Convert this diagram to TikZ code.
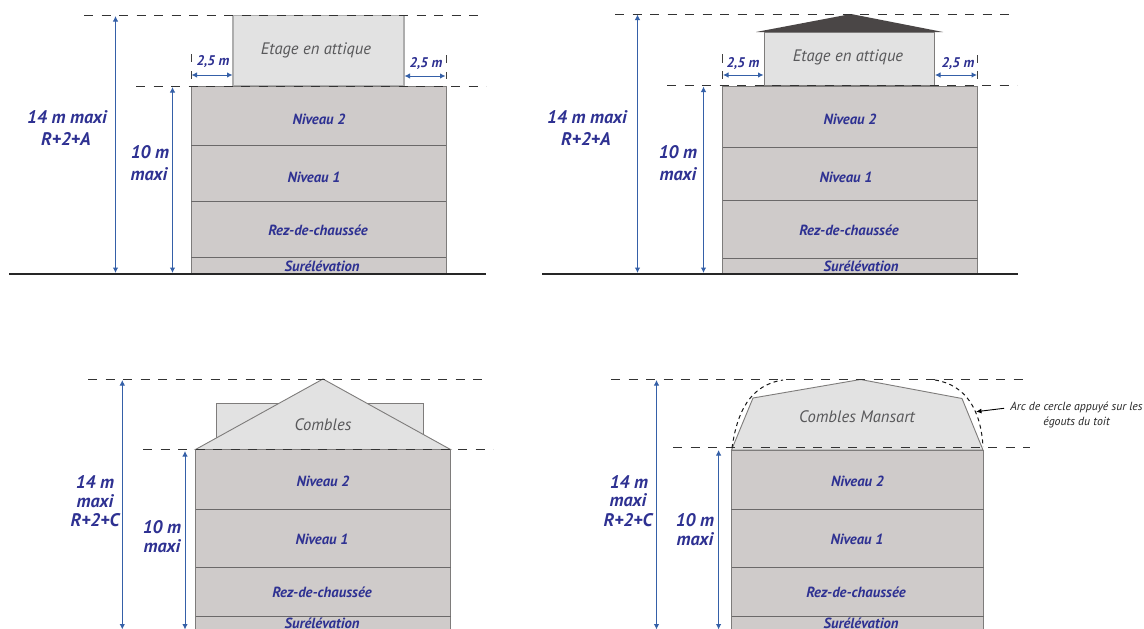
\documentclass[tikz,border=0pt]{standalone}
\usepackage{fontspec}
\setmainfont{PT Sans}
\usetikzlibrary{arrows.meta}
\definecolor{wallc}{HTML}{CFCBCA}
\definecolor{topc}{HTML}{E2E2E2}
\definecolor{edgec}{HTML}{7E7C7B}
\definecolor{inkb}{HTML}{2E3192}
\definecolor{arrb}{HTML}{3560A8}
\definecolor{txtg}{HTML}{58585A}
\definecolor{roofc}{HTML}{4A4646}
\tikzset{
  x=1pt,y=-1pt,
  wallbox/.style={fill=wallc,draw=edgec,line width=0.9pt},
  upperbox/.style={fill=topc,draw=edgec,line width=0.9pt},
  floorline/.style={draw=edgec!85!black,line width=1pt},
  limitline/.style={draw=black!80,line width=1pt,dash pattern=on 9pt off 8.5pt},
  groundline/.style={draw=black!85,line width=2.4pt},
  dimline/.style={draw=arrb,line width=1pt,{Latex[length=5.5pt,width=5.5pt]}-{Latex[length=5.5pt,width=5.5pt]}},
  tickmark/.style={draw=black!75,line width=0.8pt},
  floorlab/.style={font=\fontsize{14.7}{16}\selectfont\itshape\bfseries,text=inkb,inner sep=0pt},
  biglab/.style={font=\fontsize{18.2}{20}\selectfont\itshape\bfseries,text=inkb,inner sep=0pt},
  midlab/.style={font=\fontsize{14}{16}\selectfont\itshape\bfseries,text=inkb,inner sep=0pt},
  roomlab/.style={font=\fontsize{16.6}{19}\selectfont\itshape,text=txtg,inner sep=0pt},
  notelab/.style={font=\fontsize{11.8}{13}\selectfont\itshape,text=black!85,inner sep=0pt},
}
\begin{document}
\begin{tikzpicture}
\useasboundingbox (0,0) rectangle (1144,629);
\clip (0,0) rectangle (1144,629);
\fill[white] (0,0) rectangle (1144,629);

% Panel A
\draw[upperbox,draw=black!32,line width=1.2pt] (233,15.5) rectangle (404,86);
\draw[wallbox] (191,86) rectangle (446,273);
\draw[floorline] (191,145) -- (446,145);
\draw[floorline] (191,201) -- (446,201);
\draw[floorline] (191,257.5) -- (446,257.5);
\coordinate (a1) at (84,15.5); \coordinate (a2) at (486,15.5);
\coordinate (a3) at (136,86); \coordinate (a4) at (486,86);
\coordinate (a5) at (9,274); \coordinate (a6) at (486,274);
\draw[limitline] (a1) -- (a2);
\draw[limitline] (a3) -- (a4);
\draw[groundline] (a5) -- (a6);
\coordinate (a7) at (115.5,16); \coordinate (a8) at (115.5,273);
\coordinate (a9) at (172.5,87); \coordinate (a10) at (172.5,273);
\draw[dimline] (a7) -- (a8);
\draw[dimline] (a9) -- (a10);
\coordinate (a11) at (191.5,75); \coordinate (a12) at (232.5,75);
\coordinate (a13) at (404.5,76); \coordinate (a14) at (445.5,76);
\draw[dimline] (a11) -- (a12);
\draw[dimline] (a13) -- (a14);
\draw[tickmark] (191,54) -- (191,62) (191,71) -- (191,79);
\draw[tickmark] (446,55) -- (446,63) (446,72) -- (446,79);
\node[roomlab] (a20) at (316,50) {Etage en attique};
\node[midlab] (a21) at (213,62) {2,5 m};
\node[midlab] (a22) at (426,64) {2,5 m};
\node[floorlab] (a23) at (319,119) {Niveau 2};
\node[floorlab] (a24) at (314,177) {Niveau 1};
\node[floorlab] (a25) at (318,230) {Rez-de-chaussée};
\node[floorlab] (a26) at (322,266.5) {Surélévation};
\node[biglab] (a27) at (67,117) {14 m maxi};
\node[biglab] (a28) at (66,139) {R+2+A};
\node[biglab] (a29) at (150,152) {10 m};
\node[biglab] (a30) at (149,174) {maxi};

% Panel B
\fill[roofc] (756,32) -- (851,14) -- (943,32) -- cycle;
\draw[upperbox] (764,32) rectangle (934.5,85);
\draw[wallbox] (722.5,86) rectangle (977.5,273);
\draw[floorline] (722.5,147.5) -- (977.5,147.5);
\draw[floorline] (722.5,200.5) -- (977.5,200.5);
\draw[floorline] (722.5,258) -- (977.5,258);
\coordinate (b1) at (615,14); \coordinate (b2) at (1017,14);
\coordinate (b3) at (667,85.5); \coordinate (b4) at (1017,85.5);
\coordinate (b5) at (542,274); \coordinate (b6) at (1018,274);
\draw[limitline] (b1) -- (b2);
\draw[limitline] (b3) -- (b4);
\draw[groundline] (b5) -- (b6);
\coordinate (b7) at (637.5,14.5); \coordinate (b8) at (637.5,273);
\coordinate (b9) at (703.5,86.5); \coordinate (b10) at (703.5,273);
\draw[dimline] (b7) -- (b8);
\draw[dimline] (b9) -- (b10);
\coordinate (b11) at (723,75); \coordinate (b12) at (763.5,75);
\coordinate (b13) at (935,75); \coordinate (b14) at (977,75);
\draw[dimline] (b11) -- (b12);
\draw[dimline] (b13) -- (b14);
\draw[tickmark] (722.5,54) -- (722.5,63) (722.5,71) -- (722.5,79);
\draw[tickmark] (977.5,55) -- (977.5,63) (977.5,71) -- (977.5,79);
\node[roomlab] (b20) at (848,57) {Etage en attique};
\node[midlab] (b21) at (743,64) {2,5 m};
\node[midlab] (b22) at (958,64) {2,5 m};
\node[floorlab] (b23) at (850,119) {Niveau 2};
\node[floorlab] (b24) at (846,177) {Niveau 1};
\node[floorlab] (b25) at (849,230) {Rez-de-chaussée};
\node[floorlab] (b26) at (861,266.5) {Surélévation};
\node[biglab] (b27) at (587,117) {14 m maxi};
\node[biglab] (b28) at (586,139) {R+2+A};
\node[biglab] (b29) at (678,152) {10 m};
\node[biglab] (b30) at (678,174) {maxi};

% Panel C
\draw[upperbox] (216,449.5) -- (216,403.7) -- (423,403.7) -- (423,449.5);
\draw[upperbox] (195.5,449.5) -- (323,379) -- (450.5,449.5) -- cycle;
\draw[wallbox] (195.5,449.5) rectangle (450.5,640);
\draw[floorline] (195.5,509.3) -- (450.5,509.3);
\draw[floorline] (195.5,567) -- (450.5,567);
\draw[floorline] (195.5,616.3) -- (450.5,616.3);
\coordinate (c1) at (88,379.5); \coordinate (c2) at (490,379.5);
\coordinate (c3) at (143,449.5); \coordinate (c4) at (493,449.5);
\draw[limitline] (c1) -- (c2);
\draw[limitline] (c3) -- (c4);
\coordinate (c7) at (122.3,380); \coordinate (c8) at (122.3,629.5);
\coordinate (c9) at (185,451); \coordinate (c10) at (185,629.5);
\draw[dimline] (c7) -- (c8);
\draw[dimline] (c9) -- (c10);
\node[roomlab] (c20) at (323,425) {Combles};
\node[floorlab] (c23) at (323,481) {Niveau 2};
\node[floorlab] (c24) at (322,539) {Niveau 1};
\node[floorlab] (c25) at (322,592) {Rez-de-chaussée};
\node[floorlab] (c26) at (322,623) {Surélévation};
\node[biglab] (c27) at (95,482) {14 m};
\node[biglab] (c28) at (95,501) {maxi};
\node[biglab] (c31) at (95,520) {R+2+C};
\node[biglab] (c29) at (162,527) {10 m};
\node[biglab] (c30) at (162,546) {maxi};

% Panel D
\draw[upperbox] (731.5,450) -- (753,398) -- (860.5,379.5) -- (962,398.5) -- (983,450) -- cycle;
\draw[wallbox] (731.5,450) rectangle (983,640);
\draw[floorline] (731,509.3) -- (983.5,509.3);
\draw[floorline] (731.5,567) -- (983.5,567);
\draw[floorline] (731.5,616.3) -- (983.5,616.3);
\coordinate (d1) at (611,379.5); \coordinate (d2) at (1025,379.5);
\coordinate (d3) at (673,447.7); \coordinate (d4) at (1030,447.7);
\draw[limitline] (d1) -- (d2);
\draw[limitline] (d3) -- (d4);
\coordinate (d11) at (732,448); \coordinate (d12) at (783,380);
\coordinate (d13) at (935,380); \coordinate (d14) at (983,447);
\draw[draw=black!90,line width=1pt,dash pattern=on 4pt off 3.5pt]
  (d11) .. controls (737,412) and (750,385) .. (d12);
\draw[draw=black!90,line width=1pt,dash pattern=on 4pt off 3.5pt]
  (d13) .. controls (966,385) and (981,410) .. (d14);
\coordinate (d7) at (656.5,380); \coordinate (d8) at (656.5,629.5);
\coordinate (d9) at (718.6,450); \coordinate (d10) at (718.6,629.5);
\draw[dimline] (d7) -- (d8);
\draw[dimline] (d9) -- (d10);
\node[roomlab] (d20) at (857,417) {Combles Mansart};
\node[floorlab] (d23) at (857.5,481) {Niveau 2};
\node[floorlab] (d24) at (857,539) {Niveau 1};
\node[floorlab] (d25) at (856,592) {Rez-de-chaussée};
\node[floorlab] (d26) at (861,623) {Surélévation};
\node[biglab] (d27) at (629,482) {14 m};
\node[biglab] (d28) at (628,500) {maxi};
\node[biglab] (d31) at (628,520) {R+2+C};
\node[biglab] (d29) at (695,520.5) {10 m};
\node[biglab] (d30) at (695,539) {maxi};
\node[notelab] (d40) at (1076.5,407) {Arc de cercle appuyé sur les};
\node[notelab] (d41) at (1076.5,422) {égouts du toit};
\coordinate (d42) at (1004,408.3); \coordinate (d43) at (976,411.7);
\draw[draw=black,line width=0.9pt,-{Latex[length=5.5pt,width=5pt]}] (d42) -- (d43);
\end{tikzpicture}
\end{document}
